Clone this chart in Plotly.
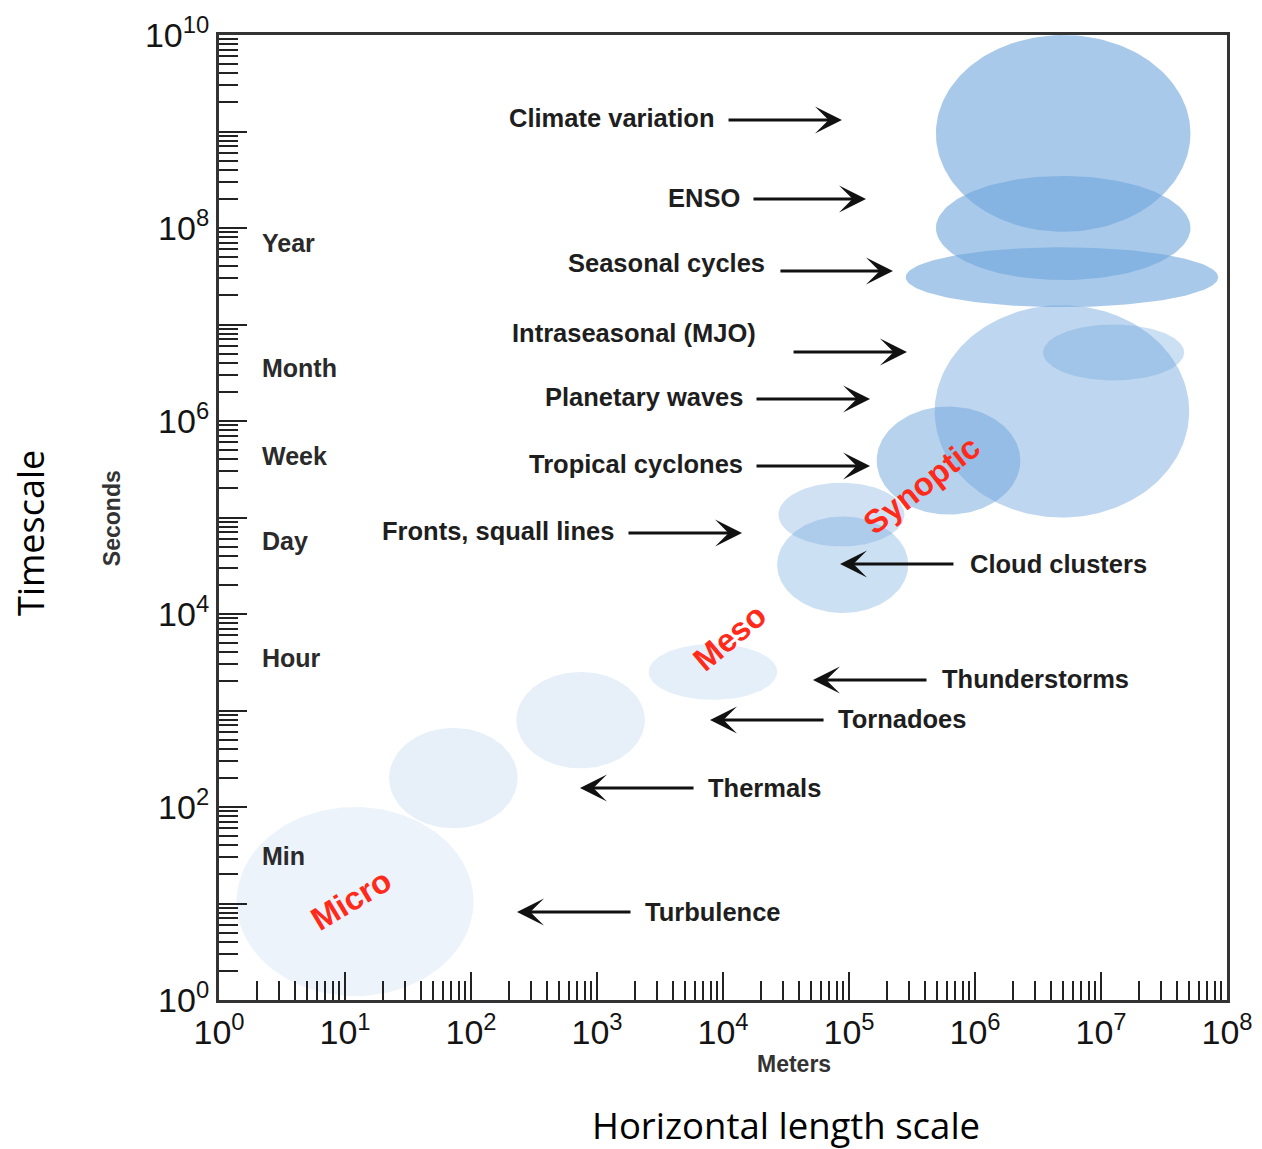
import numpy as np
import plotly.graph_objects as go

# ---------------- data ----------------
phenomena = ["Turbulence", "Thermals", "Tornadoes", "Thunderstorms", "Cloud clusters",
             "Fronts, squall lines", "Tropical cyclones", "Planetary waves",
             "Intraseasonal (MJO)", "Seasonal cycles", "ENSO", "Climate variation"]
# ellipse centre (log10 metres / log10 seconds) and half-extent in decades
len_center_log = [1.08, 1.86, 2.87, 3.92, 4.95, 4.94, 5.79, 6.69, 7.10, 6.69, 6.70, 6.70]
len_half_dec = [0.94, 0.51, 0.51, 0.51, 0.52, 0.50, 0.57, 1.01, 0.56, 1.24, 1.01, 1.01]
time_center_log = [1.02, 2.30, 2.90, 3.40, 4.51, 5.03, 5.59, 6.10, 6.71, 7.49, 8.00, 8.98]
time_half_dec = [0.98, 0.52, 0.50, 0.29, 0.50, 0.33, 0.56, 1.10, 0.29, 0.31, 0.54, 1.02]
fill_alpha = [0.13, 0.17, 0.17, 0.18, 0.35, 0.33, 0.50, 0.45, 0.35, 0.60, 0.60, 0.60]

# label placement (log units): text anchor, arrow tail / head
label_x_log = [3.365, 3.865, 4.897, 5.722, 5.944, 3.151, 4.175, 4.175, 4.278, 4.349, 4.151, 3.944]
label_y_log = [0.912, 2.197, 2.912, 3.326, 4.518, 4.860, 5.554, 6.249, 6.912, 7.637, 8.311, 9.140]
arrow_tail_x_log = [3.278, 3.778, 4.810, 5.627, 5.841, 3.238, 4.254, 4.254, 4.548, 4.444, 4.230, 4.032]
arrow_head_x_log = [2.365, 2.865, 3.897, 4.714, 4.929, 4.151, 5.167, 5.167, 5.460, 5.349, 5.135, 4.944]
arrow_y_log = [0.912, 2.197, 2.902, 3.316, 4.518, 4.839, 5.534, 6.228, 6.715, 7.554, 8.301, 9.119]

period_names = ["Year", "Month", "Week", "Day", "Hour", "Min"]
period_y_log = [7.845, 6.549, 5.637, 4.756, 3.544, 1.492]

regime_names = ["Micro", "Meso", "Synoptic"]
regime_x_log = [1.048, 4.048, 5.579]
regime_y_log = [1.036, 3.756, 5.337]
regime_angle = [-31, -40, -38]

x_decades = list(range(0, 9))
y_label_decades = [0, 2, 4, 6, 8, 10]
y_plain_decades = [1, 3, 5, 7, 9]

# ---------------- figure ----------------
fig = go.Figure()
t = np.linspace(0, 2 * np.pi, 181)
for i, name in enumerate(phenomena):
    lx = len_center_log[i] + len_half_dec[i] * np.cos(t)
    ly = time_center_log[i] + time_half_dec[i] * np.sin(t)
    fig.add_trace(go.Scatter(
        x=10 ** lx, y=10 ** ly, mode="lines", fill="toself",
        fillcolor=f"rgba(110,165,220,{fill_alpha[i]})",
        line=dict(width=0, color="rgba(0,0,0,0)"),
        name=name, showlegend=False, hoverinfo="name",
        yaxis="y2" if i == len(phenomena) - 1 else "y"))

LBL = dict(family="Liberation Sans, Arial", size=25.5, color="#1e1e1e")
ann = []
for i, name in enumerate(phenomena):
    left = arrow_head_x_log[i] < arrow_tail_x_log[i]
    ann.append(dict(x=label_x_log[i], y=label_y_log[i], xref="x", yref="y", text=f"<b>{name}</b>",
                    showarrow=False, xanchor="left" if left else "right", yanchor="middle", font=LBL))
    ann.append(dict(x=arrow_head_x_log[i], y=arrow_y_log[i], xref="x", yref="y",
                    ax=arrow_tail_x_log[i], ay=arrow_y_log[i], axref="x", ayref="y", text="",
                    showarrow=True, arrowhead=3, arrowsize=1.55, arrowwidth=2.9,
                    arrowcolor="#111111", standoff=0, startstandoff=0))
for i, name in enumerate(period_names):
    ann.append(dict(x=0.325, y=period_y_log[i], xref="x", yref="y", text=f"<b>{name}</b>",
                    showarrow=False, xanchor="left", yanchor="middle",
                    font=dict(family="Liberation Sans, Arial", size=25, color="#2a2a2a")))
for i, name in enumerate(regime_names):
    ann.append(dict(x=regime_x_log[i], y=regime_y_log[i], xref="x", yref="y", text=f"<b>{name}</b>",
                    showarrow=False, textangle=regime_angle[i], xanchor="center", yanchor="middle",
                    font=dict(family="Liberation Sans, Arial", size=32.5, color="#ff2a1a")))
ann += [
    dict(x=-0.106, y=0.4995, xref="paper", yref="paper", text="<b>Seconds</b>", textangle=-90,
         xanchor="center", yanchor="middle", showarrow=False,
         font=dict(family="Liberation Sans, Arial", size=23, color="#333333")),
    dict(x=0.570, y=-0.0663, xref="paper", yref="paper", text="<b>Meters</b>",
         xanchor="center", yanchor="middle", showarrow=False,
         font=dict(family="Liberation Sans, Arial", size=23, color="#333333")),
    dict(x=-0.1865, y=0.484, xref="paper", yref="paper", text="Timescale", textangle=-90,
         xanchor="center", yanchor="middle", showarrow=False, borderpad=0,
         font=dict(family="Open Sans", size=36, color="#000000")),
    dict(x=0.5625, y=-0.1295, xref="paper", yref="paper", text="Horizontal length scale",
         xanchor="center", yanchor="middle", showarrow=False, borderpad=0,
         font=dict(family="Open Sans", size=36.5, color="#000000")),
]

TICKFONT = dict(family="Liberation Sans, Arial", size=34, color="#141414")
axis_common = dict(type="log", showgrid=False, zeroline=False, showline=True, linewidth=3,
                   linecolor="#333333", mirror=True, ticks="inside", ticklen=28, tickwidth=2,
                   tickcolor="#222222", tickfont=TICKFONT, tickmode="array", automargin=False)
fig.update_layout(
    xaxis=dict(**axis_common, range=[0, 8],
               tickvals=[10 ** k for k in x_decades],
               ticktext=[f"10<sup>{k}</sup>" for k in x_decades],
               minor=dict(tickmode="array", ticks="inside", ticklen=19, tickwidth=2, tickcolor="#222222",
                          tickvals=[m * 10 ** k for k in x_decades[:-1] for m in range(2, 10)],
                          showgrid=False)),
    yaxis=dict(**axis_common, range=[0, 10],
               tickvals=[10 ** k for k in y_label_decades],
               ticktext=[f"10<sup>{k}</sup>" for k in y_label_decades],
               minor=dict(tickmode="array", ticks="inside", ticklen=19, tickwidth=2, tickcolor="#222222",
                          tickvals=[m * 10 ** k for k in range(10) for m in range(2, 10)],
                          showgrid=False)),
    yaxis2=dict(type="log", range=[0, 10], overlaying="y", side="left", anchor="x",
                showgrid=False, zeroline=False, showline=False, showticklabels=False,
                ticks="inside", ticklen=28, tickwidth=2, tickcolor="#222222",
                tickmode="array", tickvals=[10 ** k for k in y_plain_decades], automargin=False),
)

fig.update_layout(width=1262, height=1149, margin=dict(l=219, r=35, t=35, b=149),
                  plot_bgcolor="white", paper_bgcolor="white", annotations=ann, showlegend=False)
# remove the browser's default body margin so the figure fills the window exactly
fig.write_html("out.html", config={"displayModeBar": False},
               post_script="document.body.style.margin='0px';")
